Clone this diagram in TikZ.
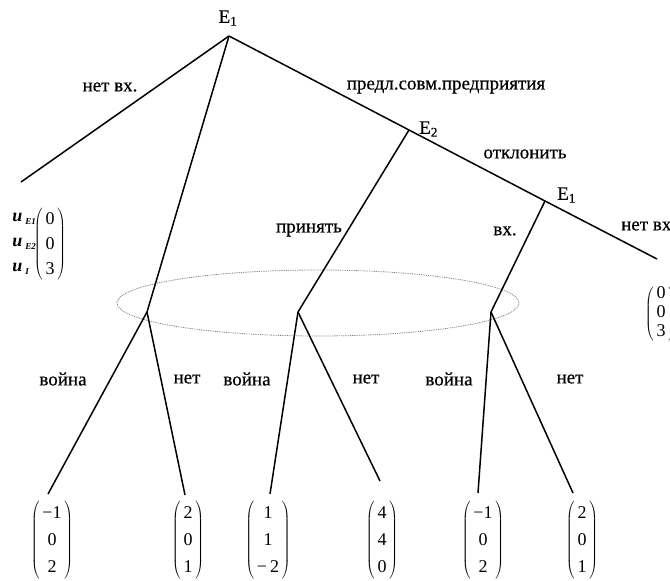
\documentclass[tikz,border=0pt]{standalone}
\usepackage{fontspec}
\setmainfont{Liberation Serif}
\newfontfamily\labfont[FakeBold=0.5]{Liberation Serif}
\usetikzlibrary{shapes.geometric}
\newcommand\payvec[4][1.35]{{\renewcommand\arraystretch{#1}$\left(\begin{array}{@{\,}c@{\,}}\mbox{#2}\\\mbox{#3}\\\mbox{#4}\end{array}\right)$}}
\newcommand\ulab[1]{{\bfseries\itshape u}\,\raisebox{-0.35ex}{\fontsize{9}{9}\selectfont\bfseries\itshape #1}}
\tikzset{
  edge/.style={line width=1.5pt},
  lab/.style={inner sep=0pt, font=\labfont\fontsize{19}{22}\selectfont},
  vec/.style={inner sep=0pt, font=\fontsize{18}{20}\selectfont},
  infoset/.style={draw=gray, line width=0.8pt, dash pattern=on 0.9pt off 0.9pt}
}
\begin{document}
\begin{tikzpicture}[x=1pt,y=-1pt]
\useasboundingbox (0,0) rectangle (670,581);
\clip (0,0) rectangle (670,581);
% vertices
\coordinate (r) at (229,36);
\coordinate (lf) at (21,182);
\coordinate (e2) at (409,130);
\coordinate (e1b) at (545,201);
\coordinate (rf) at (657,259);
\coordinate (a) at (147,312);
\coordinate (b) at (298,312);
\coordinate (c) at (491,312);
\coordinate (l1) at (48,494);
\coordinate (l2) at (185,495);
\coordinate (l3) at (270,494);
\coordinate (l4) at (380,481);
\coordinate (l5) at (478,493);
\coordinate (l6) at (573,493);
% information set
\node[infoset, ellipse, minimum width=402pt, minimum height=66pt, inner sep=0pt] (info) at (318,303) {};
% edges
\draw[edge] (r) -- (lf);
\draw[edge] (r) -- (a);
\draw[edge] (r) -- (e2) -- (e1b) -- (rf);
\draw[edge] (e2) -- (b);
\draw[edge] (e1b) -- (c);
\draw[edge] (a) -- (l1);
\draw[edge] (a) -- (l2);
\draw[edge] (b) -- (l3);
\draw[edge] (b) -- (l4);
\draw[edge] (c) -- (l5);
\draw[edge] (c) -- (l6);
% player labels
\node[lab] (pr) at (228,18) {E\textsubscript{1}};
\node[lab, anchor=west] (pe2) at (419,129) {E\textsubscript{2}};
\node[lab, anchor=west] (pe1) at (557,195) {E\textsubscript{1}};
% action labels
\node[lab] (t1) at (110,87) {нет вх.};
\node[lab] (t2) at (446,87) {предл.совм.предприятия};
\node[lab] (t3) at (525,154) {отклонить};
\node[lab, anchor=west] (t4) at (621,226) {нет вх.};
\node[lab] (t5) at (309,230) {принять};
\node[lab] (t6) at (505,231) {вх.};
\node[lab] (w1) at (63,379) {война};
\node[lab] (n1) at (187,379) {нет};
\node[lab] (w2) at (247,379) {война};
\node[lab] (n2) at (366,379) {нет};
\node[lab] (w3) at (449,379) {война};
\node[lab] (n3) at (570,379) {нет};
% payoffs
\node[vec] (v0) at (50,244) {\payvec[1.25]{0}{0}{3}};
\node[anchor=east, inner sep=0pt, font=\fontsize{18}{25}\selectfont, align=left] (ul) at (36,244) {\ulab{E1}\\\ulab{E2}\\\ulab{I}};
\node[vec] (v7) at (661,314) {\payvec[0.95]{0}{0}{3}};
\node[vec] (v1) at (52,540) {\payvec{−1}{0}{2}};
\node[vec] (v2) at (188,540) {\payvec{2}{0}{1}};
\node[vec] (v3) at (268,540) {\payvec{1}{1}{−\,2}};
\node[vec] (v4) at (382,540) {\payvec{4}{4}{0}};
\node[vec] (v5) at (483,540) {\payvec{−1}{0}{2}};
\node[vec] (v6) at (582,540) {\payvec{2}{0}{1}};
\end{tikzpicture}
\end{document}
